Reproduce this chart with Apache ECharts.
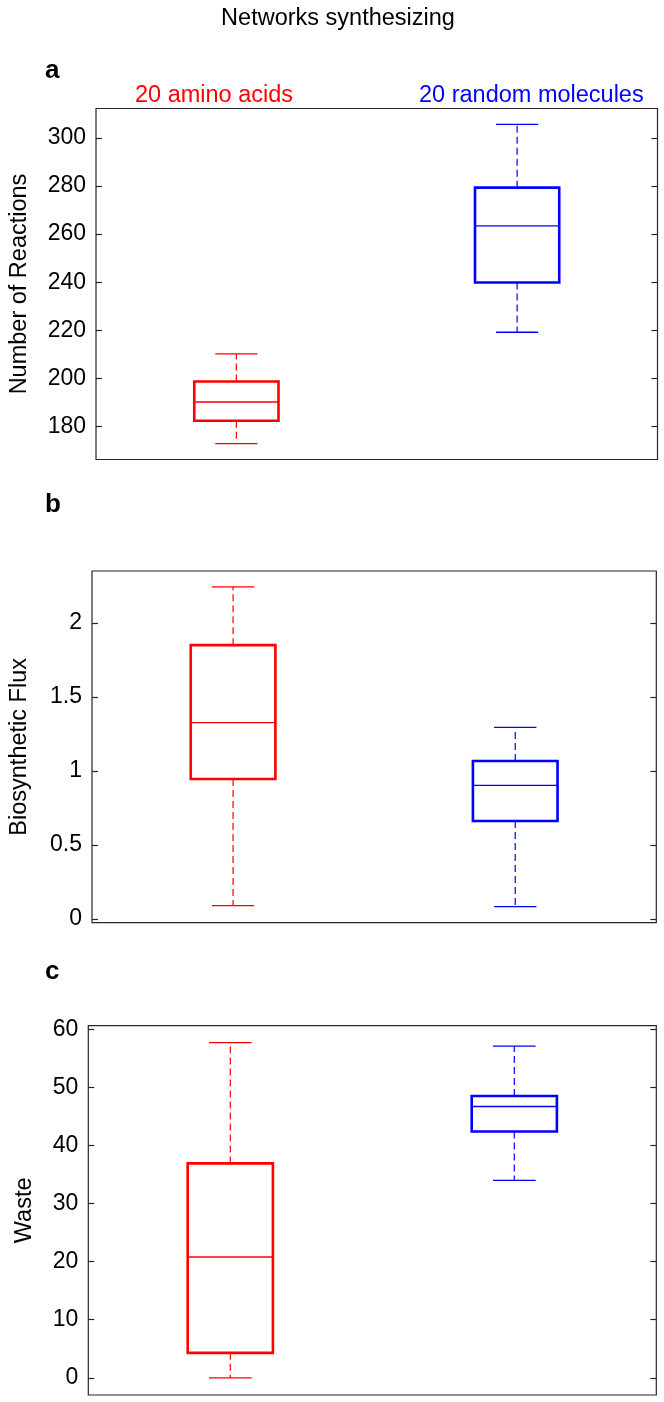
<!DOCTYPE html>
<html>
<head>
<meta charset="utf-8">
<style>
  html, body { margin: 0; padding: 0; background: #ffffff; }
  #chart { width: 664px; height: 1402px; }
</style>
<script src="https://cdn.jsdelivr.net/npm/echarts@6/dist/echarts.min.js"></script>
</head>
<body>
<div id="chart"></div>
<script>
// ---- data (each box: [lower whisker, Q1, median, Q3, upper whisker]) ----
const categories = ['20 amino acids', '20 random molecules'];
const seriesColors = ['#ff0000', '#0000ff'];

const reactionsAmino  = [172.9, 182.4, 190.2, 198.7, 210.2];
const reactionsRandom = [219.2, 239.9, 263.4, 279.3, 305.6];

const fluxAmino  = [0.09, 0.946, 1.327, 1.851, 2.245];
const fluxRandom = [0.083, 0.662, 0.903, 1.068, 1.295];

const wasteAmino  = [0, 4.3, 20.8, 36.9, 57.7];
const wasteRandom = [34.0, 42.4, 46.7, 48.5, 57.1];

const reactionsTicks = [180, 200, 220, 240, 260, 280, 300];
const fluxTicks = [0, 0.5, 1, 1.5, 2];
const wasteTicks = [0, 10, 20, 30, 40, 50, 60];

const panelNames = ['Number of Reactions', 'Biosynthetic Flux', 'Waste'];
const panelLetters = ['a', 'b', 'c'];
const chartTitle = 'Networks synthesizing';

// ---- layout ----
const FONT = '"Liberation Sans", Arial, Helvetica, sans-serif';
const grids = [
  { left: 91.5, right: 6.5, top: 108.5, height: 351 },
  { left: 88.3, right: 7.7, top: 571, height: 351.7 },
  { left: 88.3, right: 7.7, top: 1025.7, height: 369.3 }
];
const yRanges = [
  { min: 166.3, max: 312.2 },
  { min: -0.025, max: 2.352 },
  { min: -2.95, max: 60.6 }
];
const tickSets = [reactionsTicks, fluxTicks, wasteTicks];
const nameGaps = [64, 60, 52];
const panelData = [
  [reactionsAmino, reactionsRandom],
  [fluxAmino, fluxRandom],
  [wasteAmino, wasteRandom]
];

function renderBox(params, api) {
  const xi = api.value(0);
  const lo = api.coord([xi, api.value(1)]);
  const q1 = api.coord([xi, api.value(2)]);
  const med = api.coord([xi, api.value(3)]);
  const q3 = api.coord([xi, api.value(4)]);
  const hi = api.coord([xi, api.value(5)]);
  const band = api.size([1, 0])[0];
  const bw = band * 0.3;
  const cw = bw * 0.5;
  const cx = lo[0];
  const c = seriesColors[xi];
  return {
    type: 'group',
    children: [
      { type: 'line', shape: { x1: cx, y1: q3[1], x2: cx, y2: hi[1] },
        style: { stroke: c, lineWidth: 1.2, lineDash: [7, 4] } },
      { type: 'line', shape: { x1: cx, y1: q1[1], x2: cx, y2: lo[1] },
        style: { stroke: c, lineWidth: 1.2, lineDash: [7, 4] } },
      { type: 'line', shape: { x1: cx - cw / 2, y1: hi[1], x2: cx + cw / 2, y2: hi[1] },
        style: { stroke: c, lineWidth: 1.3 } },
      { type: 'line', shape: { x1: cx - cw / 2, y1: lo[1], x2: cx + cw / 2, y2: lo[1] },
        style: { stroke: c, lineWidth: 1.3 } },
      { type: 'rect', shape: { x: cx - bw / 2, y: q3[1], width: bw, height: q1[1] - q3[1] },
        style: { fill: 'none', stroke: c, lineWidth: 2.6 } },
      { type: 'line', shape: { x1: cx - bw / 2, y1: med[1], x2: cx + bw / 2, y2: med[1] },
        style: { stroke: c, lineWidth: 1.3 } }
    ]
  };
}

const option = {
  backgroundColor: '#ffffff',
  animation: false,
  grid: grids.map(g => Object.assign({ show: true, borderColor: '#262626', borderWidth: 1.2, backgroundColor: 'transparent' }, g)),
  xAxis: grids.map((g, i) => ({
    type: 'category', gridIndex: i, data: categories,
    axisLine: { show: false }, axisTick: { show: false }, axisLabel: { show: false },
    splitLine: { show: false }
  })),
  yAxis: [].concat(
    grids.map((g, i) => ({
      type: 'value', gridIndex: i, position: 'left',
      min: yRanges[i].min, max: yRanges[i].max,
      name: panelNames[i], nameLocation: 'middle', nameGap: nameGaps[i], nameRotate: 90,
      nameTextStyle: { fontFamily: FONT, fontSize: 23.5, color: '#000' },
      axisLine: { show: false },
      axisTick: { show: true, inside: true, length: 6, customValues: tickSets[i],
        lineStyle: { color: '#262626', width: 1.2 } },
      axisLabel: { show: true, customValues: tickSets[i], margin: 10,
        fontFamily: FONT, fontSize: 23, color: '#000' },
      splitLine: { show: false }
    })),
    grids.map((g, i) => ({
      type: 'value', gridIndex: i, position: 'right',
      min: yRanges[i].min, max: yRanges[i].max,
      axisLine: { show: false },
      axisTick: { show: true, inside: true, length: 6, customValues: tickSets[i],
        lineStyle: { color: '#262626', width: 1.2 } },
      axisLabel: { show: false },
      splitLine: { show: false }
    }))
  ),
  series: panelData.map((pair, i) => ({
    type: 'custom', xAxisIndex: i, yAxisIndex: i,
    renderItem: renderBox,
    encode: { x: 0, y: [1, 2, 3, 4, 5] },
    data: pair.map((d, k) => [k].concat(d)),
    silent: true
  })),
  graphic: [
    { type: 'text', style: { text: chartTitle, x: 338, y: 18.5, textAlign: 'center', textVerticalAlign: 'middle',
      font: '23.5px ' + FONT, fill: '#000' } },
    { type: 'text', style: { text: panelLetters[0], x: 45, y: 70.6, textAlign: 'left', textVerticalAlign: 'middle',
      font: 'bold 26px ' + FONT, fill: '#000' } },
    { type: 'text', style: { text: panelLetters[1], x: 45, y: 504.6, textAlign: 'left', textVerticalAlign: 'middle',
      font: 'bold 26px ' + FONT, fill: '#000' } },
    { type: 'text', style: { text: panelLetters[2], x: 45, y: 971.6, textAlign: 'left', textVerticalAlign: 'middle',
      font: 'bold 26px ' + FONT, fill: '#000' } },
    { type: 'text', style: { text: categories[0], x: 135, y: 95.5, textAlign: 'left', textVerticalAlign: 'middle',
      font: '23.5px ' + FONT, fill: seriesColors[0] } },
    { type: 'text', style: { text: categories[1], x: 419, y: 95.5, textAlign: 'left', textVerticalAlign: 'middle',
      font: '23.5px ' + FONT, fill: seriesColors[1] } }
  ]
};

const chart = echarts.init(document.getElementById('chart'), null, { renderer: 'canvas', width: 664, height: 1402 });
chart.setOption(option);
</script>
</body>
</html>
